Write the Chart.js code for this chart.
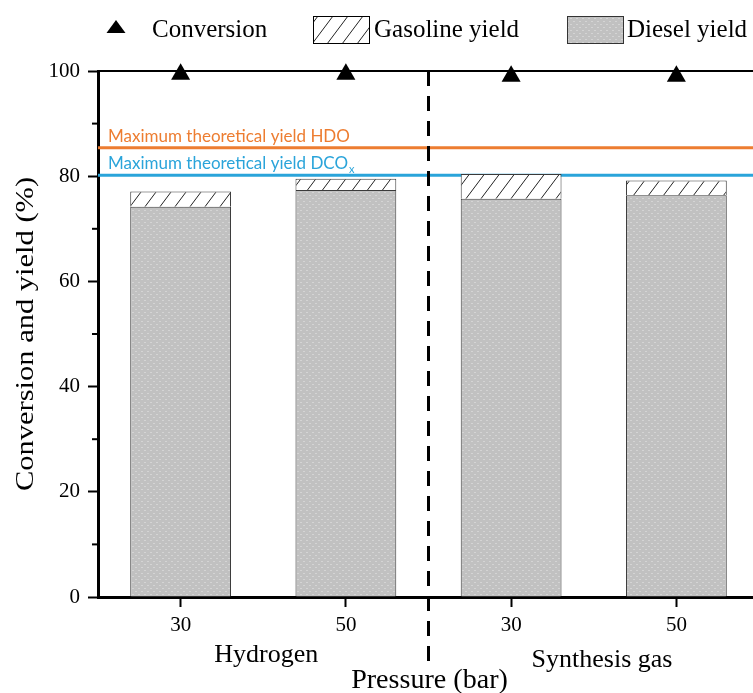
<!DOCTYPE html>
<html>
<head>
<meta charset="utf-8">
<script src="https://cdn.jsdelivr.net/npm/chart.js@4.4.1/dist/chart.umd.min.js"></script>
<style>
html,body{margin:0;padding:0;background:#fff;overflow:hidden;}
#wrap{width:770px;height:693px;}
</style>
</head>
<body>
<div id="wrap"><canvas id="grafico" width="770" height="693"></canvas></div>
<script>
// datos: presion (bar) por gas de reaccion
const categorias = ['30', '50', '30', '50'];
const grupos = ['Hydrogen', 'Synthesis gas'];
const diesel = [74.2, 77.4, 75.7, 76.4];
const gasolina = [2.9, 2.1, 4.7, 2.8];
const conversion = [99.4, 99.4, 99.0, 99.0];
const yTicks = [0, 20, 40, 60, 80, 100];
const yMenores = [10, 30, 50, 70, 90];
const maxHDO = 85.4;
const maxDCOx = 80.2;

const SERIF = "'Liberation Serif', 'Times New Roman', serif";
const SANS = "Lato, 'Liberation Sans', sans-serif";

//=========================patrones de relleno============================
function patronDiesel(){
  const c = document.createElement('canvas');
  c.width = 6; c.height = 6;
  const g = c.getContext('2d');
  g.fillStyle = '#c1c1c1';
  g.fillRect(0, 0, 6, 6);
  g.fillStyle = '#d4d4d4';
  g.fillRect(0, 0, 2, 1);
  g.fillRect(3, 3, 2, 1);
  return g.createPattern(c, 'repeat');
}

function patronGasolina(){
  const c = document.createElement('canvas');
  c.width = 15; c.height = 20;
  const g = c.getContext('2d');
  g.fillStyle = '#fff';
  g.fillRect(0, 0, 15, 20);
  g.strokeStyle = '#222';
  g.lineWidth = 1;
  g.beginPath();
  [-15, 0, 15].forEach(function(dx){
    g.moveTo(dx - 3, 24);
    g.lineTo(dx + 18, -4);
  });
  g.stroke();
  return g.createPattern(c, 'repeat');
}

const rellenoDiesel = patronDiesel();
const rellenoGasolina = patronGasolina();

//=========================dibujos extra============================
function lineaMaxima(ctx, area, y, valor, color, texto, sub){
  const py = y.getPixelForValue(valor);
  ctx.strokeStyle = color;
  ctx.lineWidth = 3;
  ctx.beginPath();
  ctx.moveTo(area.left, py);
  ctx.lineTo(area.right, py);
  ctx.stroke();
  ctx.fillStyle = color;
  ctx.font = '17px ' + SANS;
  ctx.textAlign = 'left';
  ctx.textBaseline = 'alphabetic';
  ctx.fillText(texto, area.left + 10, py - 6);
  if(sub){
    const w = ctx.measureText(texto).width;
    ctx.font = '11px ' + SANS;
    ctx.fillText(sub, area.left + 10 + w + 1, py - 2);
  }
}

// texto ensanchado horizontalmente (fx)
function textoAncho(ctx, texto, x, y, fx){
  ctx.save();
  ctx.translate(x, y);
  ctx.scale(fx, 1);
  ctx.fillText(texto, 0, 0);
  ctx.restore();
}

const extras = {
  id: 'extras',
  beforeDatasetsDraw(chart){
    const {ctx, chartArea: a, scales: {y}} = chart;
    ctx.save();
    lineaMaxima(ctx, a, y, maxHDO, '#ED7D31', 'Maximum theoretical yield HDO', null);
    lineaMaxima(ctx, a, y, maxDCOx, '#2AA4DA', 'Maximum theoretical yield DCO', 'x');
    // marco superior
    ctx.strokeStyle = '#000';
    ctx.lineWidth = 2;
    ctx.beginPath();
    ctx.moveTo(a.left - 1, y.getPixelForValue(100));
    ctx.lineTo(a.right, y.getPixelForValue(100));
    ctx.stroke();
    ctx.restore();
  },
  afterDraw(chart){
    const {ctx, chartArea: a, scales: {x, y}} = chart;
    ctx.save();
    // ticks menores del eje y
    ctx.strokeStyle = '#000';
    ctx.lineWidth = 2;
    yMenores.forEach(function(v){
      const py = y.getPixelForValue(v);
      ctx.beginPath();
      ctx.moveTo(a.left - 6, py);
      ctx.lineTo(a.left, py);
      ctx.stroke();
    });
    // separador entre gases (se corta antes del titulo x)
    const xs = x.getPixelForValue(1.5);
    ctx.lineWidth = 3;
    ctx.setLineDash([15, 10]);
    ctx.beginPath();
    ctx.moveTo(xs, a.top);
    ctx.lineTo(xs, 666);
    ctx.stroke();
    ctx.setLineDash([]);
    // titulo eje y
    ctx.fillStyle = '#000';
    ctx.save();
    ctx.translate(33, (a.top + a.bottom) / 2);
    ctx.rotate(-Math.PI / 2);
    ctx.font = '25px ' + SERIF;
    ctx.textAlign = 'center';
    ctx.textBaseline = 'alphabetic';
    textoAncho(ctx, 'Conversion and yield (%)', 0, 0, 1.22);
    ctx.restore();
    // etiquetas de grupo y titulo x
    ctx.textAlign = 'center';
    ctx.textBaseline = 'alphabetic';
    ctx.font = '26px ' + SERIF;
    ctx.fillText(grupos[0], x.getPixelForValue(0.5) + 3, 662);
    ctx.fillText(grupos[1], x.getPixelForValue(2.55), 667);
    ctx.font = '27px ' + SERIF;
    textoAncho(ctx, 'Pressure (bar)', xs + 1, 688, 1.04);
    // leyenda
    const ds = chart.data.datasets;
    ctx.textAlign = 'left';
    ctx.font = '25px ' + SERIF;
    ctx.beginPath();
    ctx.moveTo(116, 20);
    ctx.lineTo(125.5, 33);
    ctx.lineTo(106.5, 33);
    ctx.closePath();
    ctx.fill();
    ctx.fillText(ds[2].label, 152, 37);
    ctx.fillStyle = rellenoGasolina;
    ctx.fillRect(313, 16, 56, 27);
    ctx.lineWidth = 1;
    ctx.strokeRect(313.5, 16.5, 56, 27);
    ctx.fillStyle = '#000';
    ctx.fillText(ds[1].label, 374, 37);
    ctx.fillStyle = rellenoDiesel;
    ctx.fillRect(567, 16, 56, 27);
    ctx.strokeStyle = '#333';
    ctx.strokeRect(567.5, 16.5, 56, 27);
    ctx.fillStyle = '#000';
    ctx.fillText(ds[0].label, 627, 37);
    ctx.restore();
  }
};

//=========================grafico============================
const ctx = document.getElementById('grafico').getContext('2d');
new Chart(ctx, {
  type: 'bar',
  data: {
    labels: categorias,
    datasets: [
      {
        label: 'Diesel yield',
        data: diesel,
        backgroundColor: rellenoDiesel,
        borderColor: '#3a3a3a',
        borderWidth: 1,
        stack: 'rend',
        barPercentage: 0.61,
        categoryPercentage: 1,
        order: 1
      },
      {
        label: 'Gasoline yield',
        data: gasolina,
        backgroundColor: rellenoGasolina,
        borderColor: '#3a3a3a',
        borderWidth: 1,
        stack: 'rend',
        barPercentage: 0.61,
        categoryPercentage: 1,
        order: 2
      },
      {
        type: 'line',
        label: 'Conversion',
        data: conversion,
        showLine: false,
        pointStyle: 'triangle',
        pointRadius: 11,
        pointBackgroundColor: '#000',
        pointBorderColor: '#000',
        pointBorderWidth: 0,
        clip: false,
        stack: 'conv',
        order: 0
      }
    ]
  },
  options: {
    responsive: false,
    animation: false,
    layout: { padding: { top: 71, right: 9, left: 0, bottom: 0 } },
    plugins: { legend: { display: false }, tooltip: { enabled: false } },
    scales: {
      x: {
        stacked: true,
        grid: { offset: false, drawOnChartArea: false, tickLength: 10, tickWidth: 2, tickColor: '#000' },
        border: { color: '#000', width: 3 },
        ticks: { font: { family: SERIF, size: 21 }, color: '#000', padding: 6 },
        afterFit: function(s){ s.height = 96; }
      },
      y: {
        stacked: true,
        min: 0,
        max: 100,
        afterBuildTicks: function(s){ s.ticks = yTicks.map(function(v){ return { value: v }; }); },
        grid: { drawOnChartArea: false, tickLength: 10, tickWidth: 2, tickColor: '#000' },
        border: { color: '#000', width: 3 },
        ticks: { font: { family: SERIF, size: 21 }, color: '#000', padding: 8 },
        afterFit: function(s){ s.width = 98; }
      }
    }
  },
  plugins: [extras]
});
</script>
</body>
</html>
